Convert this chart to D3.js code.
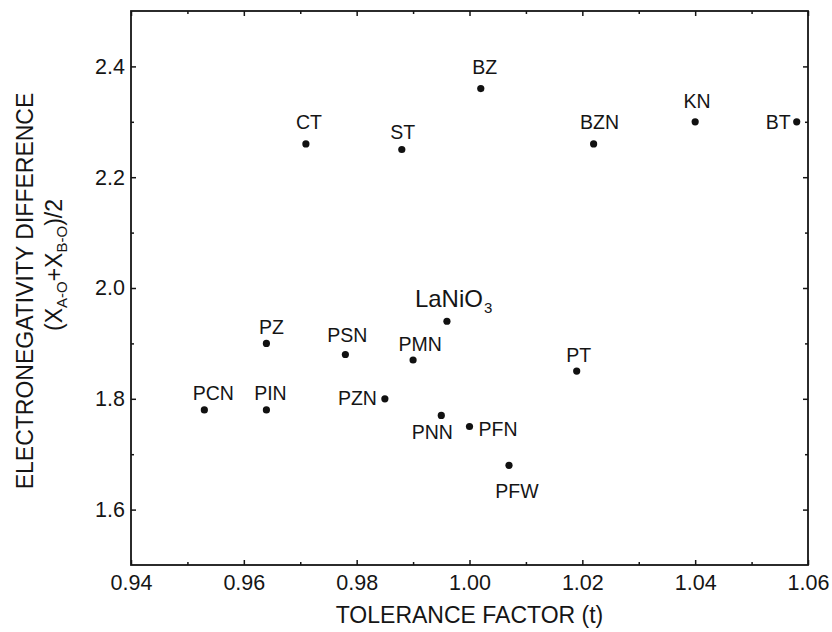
<!DOCTYPE html>
<html>
<head>
<meta charset="utf-8">
<script src="https://cdn.jsdelivr.net/npm/d3@7"></script>
<style>
  body { margin: 0; background: #fff; }
  svg { display: block; }
  text { font-family: "Liberation Sans", Arial, Helvetica, sans-serif; fill: #151515; }
</style>
</head>
<body>
<svg id="chart" width="832" height="632"></svg>
<script>
// Perovskite compounds: tolerance factor vs. mean electronegativity difference
const compounds = ["CT", "ST", "BZ", "BZN", "KN", "BT", "LaNiO3", "PZ", "PSN", "PMN", "PT",
                   "PCN", "PIN", "PZN", "PNN", "PFN", "PFW"];
const toleranceFactor = [0.971, 0.988, 1.002, 1.022, 1.040, 1.058, 0.996, 0.964, 0.978, 0.990, 1.019,
                         0.953, 0.964, 0.985, 0.995, 1.000, 1.007];
const electronegativityDiff = [2.26, 2.25, 2.36, 2.26, 2.30, 2.30, 1.94, 1.90, 1.88, 1.87, 1.85,
                               1.78, 1.78, 1.80, 1.77, 1.75, 1.68];

const xTicks = [0.94, 0.96, 0.98, 1.00, 1.02, 1.04, 1.06];
const xMinorTicks = [0.95, 0.97, 0.99, 1.01, 1.03, 1.05];
const yTicks = [1.6, 1.8, 2.0, 2.2, 2.4];
const yMinorTicks = [1.7, 1.9, 2.1, 2.3];

// Label placement around each point (anchor, offset from the dot)
const labelPlacement = {
  CT:     { anchor: "middle", dx: 3,   dy: -15 },
  ST:     { anchor: "middle", dx: 1,   dy: -11 },
  BZ:     { anchor: "middle", dx: 4,   dy: -15 },
  BZN:    { anchor: "middle", dx: 6,   dy: -15 },
  KN:     { anchor: "middle", dx: 2,   dy: -14 },
  BT:     { anchor: "end",    dx: -6,  dy: 7 },
  LaNiO3: { anchor: "start",  dx: -32, dy: -14 },
  PZ:     { anchor: "middle", dx: 5,   dy: -9 },
  PSN:    { anchor: "middle", dx: 2,   dy: -12 },
  PMN:    { anchor: "middle", dx: 7,   dy: -9 },
  PT:     { anchor: "middle", dx: 2,   dy: -9 },
  PCN:    { anchor: "middle", dx: 9,   dy: -10 },
  PIN:    { anchor: "middle", dx: 4,   dy: -10 },
  PZN:    { anchor: "end",    dx: -8,  dy: 6 },
  PNN:    { anchor: "middle", dx: -9,  dy: 24 },
  PFN:    { anchor: "start",  dx: 9,   dy: 9 },
  PFW:    { anchor: "middle", dx: 8,   dy: 33 }
};

const margin = { left: 131, right: 24, top: 11, bottom: 67 };
const W = 832, H = 632;
const svg = d3.select("#chart");

const x = d3.scaleLinear().domain([0.94, 1.06]).range([margin.left, W - margin.right]);
const y = d3.scaleLinear().domain([1.5, 2.5]).range([H - margin.bottom, margin.top]);

const x0 = x.range()[0], x1 = x.range()[1];
const y0 = y.range()[0], y1 = y.range()[1];

function styleAxis(g) {
  g.select(".domain").remove();
  g.selectAll(".tick line").attr("stroke", "#151515").attr("stroke-width", 1.5);
}

// Bottom axis with labels, ticks pointing inward
svg.append("g")
  .attr("transform", `translate(0,${y0})`)
  .call(d3.axisBottom(x).tickValues(xTicks).tickFormat(d3.format(".2f")).tickSize(-5).tickPadding(10))
  .call(styleAxis)
  .call(g => g.selectAll("text").attr("font-size", 21.5).style("font-family", "'Liberation Sans', Arial, sans-serif").attr("fill", "#151515"));
svg.append("g")
  .attr("transform", `translate(0,${y0})`)
  .call(d3.axisBottom(x).tickValues(xMinorTicks).tickFormat("").tickSize(-3))
  .call(styleAxis);

// Top axis, ticks only
svg.append("g")
  .attr("transform", `translate(0,${y1})`)
  .call(d3.axisTop(x).tickValues(xTicks).tickFormat("").tickSize(-5))
  .call(styleAxis);
svg.append("g")
  .attr("transform", `translate(0,${y1})`)
  .call(d3.axisTop(x).tickValues(xMinorTicks).tickFormat("").tickSize(-3))
  .call(styleAxis);

// Left axis with labels
svg.append("g")
  .attr("transform", `translate(${x0},0)`)
  .call(d3.axisLeft(y).tickValues(yTicks).tickFormat(d3.format(".1f")).tickSize(-5).tickPadding(6))
  .call(styleAxis)
  .call(g => g.selectAll("text").attr("font-size", 21.5).style("font-family", "'Liberation Sans', Arial, sans-serif").attr("fill", "#151515"));
svg.append("g")
  .attr("transform", `translate(${x0},0)`)
  .call(d3.axisLeft(y).tickValues(yMinorTicks).tickFormat("").tickSize(-3))
  .call(styleAxis);

// Right axis, ticks only
svg.append("g")
  .attr("transform", `translate(${x1},0)`)
  .call(d3.axisRight(y).tickValues(yTicks).tickFormat("").tickSize(-5))
  .call(styleAxis);
svg.append("g")
  .attr("transform", `translate(${x1},0)`)
  .call(d3.axisRight(y).tickValues(yMinorTicks).tickFormat("").tickSize(-3))
  .call(styleAxis);

// Plot frame
svg.append("rect")
  .attr("x", x0).attr("y", y1)
  .attr("width", x1 - x0).attr("height", y0 - y1)
  .attr("fill", "none").attr("stroke", "#151515").attr("stroke-width", 1.8);

// Data
const points = compounds.map((name, i) => ({
  name, t: toleranceFactor[i], e: electronegativityDiff[i]
}));

svg.append("g").selectAll("circle")
  .data(points).join("circle")
  .attr("cx", d => x(d.t)).attr("cy", d => y(d.e))
  .attr("r", 3.6).attr("fill", "#111");

const labels = svg.append("g").selectAll("text")
  .data(points).join("text")
  .attr("x", d => x(d.t) + labelPlacement[d.name].dx)
  .attr("y", d => y(d.e) + labelPlacement[d.name].dy)
  .attr("text-anchor", d => labelPlacement[d.name].anchor)
  .attr("font-size", 19.5);

labels.each(function (d) {
  const t = d3.select(this);
  if (d.name === "LaNiO3") {
    t.attr("font-size", 24);
    t.append("tspan").text("LaNiO");
    t.append("tspan").attr("font-size", 15).attr("dy", 6).attr("dx", 1).text("3");
  } else {
    t.text(d.name);
  }
});

// Axis titles
svg.append("text")
  .attr("x", (x0 + x1) / 2).attr("y", 623)
  .attr("text-anchor", "middle").attr("font-size", 23)
  .text("TOLERANCE FACTOR (t)");

svg.append("text")
  .attr("transform", "translate(33,291) rotate(-90)")
  .attr("text-anchor", "middle").attr("font-size", 23)
  .text("ELECTRONEGATIVITY DIFFERENCE");

const yTitle2 = svg.append("text")
  .attr("transform", "translate(62,265) rotate(-90)")
  .attr("text-anchor", "middle").attr("font-size", 23);
yTitle2.append("tspan").text("(X");
yTitle2.append("tspan").attr("font-size", 15).attr("dy", 5).text("A-O");
yTitle2.append("tspan").attr("dy", -5).text("+X");
yTitle2.append("tspan").attr("font-size", 15).attr("dy", 5).text("B-O");
yTitle2.append("tspan").attr("dy", -5).text(")/2");
</script>
</body>
</html>
